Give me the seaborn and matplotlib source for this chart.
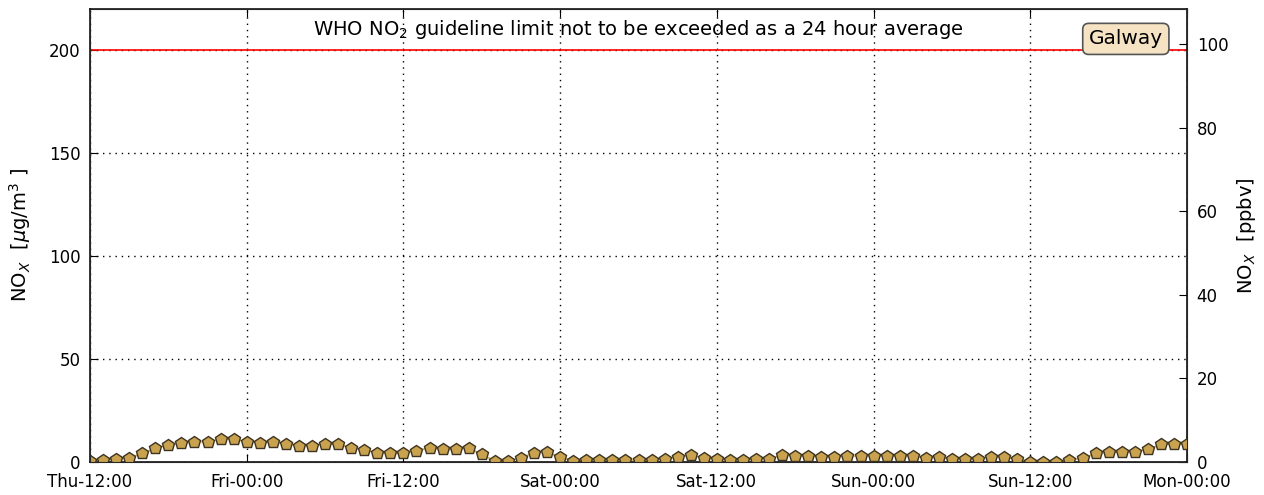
import pandas as pd
import matplotlib
matplotlib.use("Agg")
import matplotlib.pyplot as plt
import matplotlib.dates as mdates
import seaborn as sns

# hourly NOx readings (ug/m3), Thu 12:00 -> Mon 00:00
nox_ugm3 = [0.3, 1.0, 1.5, 2.0, 4.2, 6.6, 8.2, 9.0, 9.8, 9.8,
            11.1, 11.1, 9.8, 9.4, 9.8, 8.7, 7.9, 7.9, 8.7, 8.7,
            6.9, 5.8, 4.6, 4.2, 4.2, 5.5, 6.9, 6.1, 6.1, 6.9,
            3.7, 0.5, 0.5, 2.1, 4.5, 5.0, 2.3, 0.7, 1.0, 1.0,
            1.0, 1.0, 1.0, 1.0, 1.6, 2.3, 3.4, 1.8, 1.5, 1.0,
            1.0, 1.6, 1.6, 3.4, 2.9, 2.9, 2.6, 2.3, 2.9, 2.9,
            2.9, 2.9, 2.9, 2.9, 1.9, 2.3, 1.3, 1.3, 1.3, 2.6,
            2.3, 1.3, 0.2, 0.2, 0.2, 1.0, 1.8, 4.2, 4.7, 4.7,
            5.0, 6.1, 8.6, 8.6, 8.6]
start_time = "2016-01-07 12:00"   # a Thursday
end_time = "2016-01-11 00:00"     # Monday
who_limit = 200
site_name = "Galway"
left_ticks = [0, 50, 100, 150, 200]
right_ticks = [0, 20, 40, 60, 80, 100]

times = pd.date_range(start_time, periods=len(nox_ugm3), freq="h")
df = pd.DataFrame({"time": times, "nox": nox_ugm3})

sns.set_style("ticks")
plt.rcParams["font.family"] = ["DejaVu Sans"]
plt.rcParams.update({"text.color": "black", "axes.labelcolor": "black",
                     "xtick.color": "black", "ytick.color": "black"})

fig = plt.figure(figsize=(12.64, 4.95), dpi=100)
ax = fig.add_axes([0.0712, 0.0667, 0.8679, 0.9151])

ax.axhline(who_limit, color="red", lw=1.2, zorder=1)
sns.lineplot(data=df, x="time", y="nox", ax=ax, color="#c9a24f", lw=1,
             marker="p", markersize=9, markerfacecolor="#c9a24f",
             markeredgecolor="#3d3320", markeredgewidth=1, zorder=3)

ax.set_xlim(pd.Timestamp(start_time), pd.Timestamp(end_time))
ax.set_ylim(0, 220)
ax.set_yticks(left_ticks)
ax.xaxis.set_major_locator(mdates.HourLocator(byhour=[0, 12]))
ax.xaxis.set_major_formatter(mdates.DateFormatter("%a-%H:%M"))
ax.grid(True, linestyle=(0, (1, 3.5)), color="black", lw=1)
ax.tick_params(direction="in", length=6, top=True, right=True, labelsize=12)
ax.tick_params(axis="x", pad=8)
ax.tick_params(axis="y", pad=7)
ax.set_xlabel("")
ax.set_ylabel(r"NO$_X$  [$\mu$g/m$^3$ ]", fontsize=14, labelpad=11)

for sp in ax.spines.values():
    sp.set_visible(True)
    sp.set_color("black")
    sp.set_linewidth(1.1)

ax.text(0.5, 0.954, r"WHO NO$_2$ guideline limit not to be exceeded as a 24 hour average",
        transform=ax.transAxes, ha="center", va="center", fontsize=14)
ax.text(0.978, 0.955, site_name, transform=ax.transAxes, ha="right", va="top",
        fontsize=14.5, bbox=dict(boxstyle="round,pad=0.3", facecolor="#f5e3c3",
                                 edgecolor="#555555", lw=1.2))

ax2 = ax.twinx()
ax2.set_ylim(0, 108.4)
ax2.set_yticks(right_ticks)
ax2.tick_params(direction="in", length=6, labelsize=12, pad=7)
ax2.set_ylabel(r"NO$_X$  [ppbv]", fontsize=14, rotation=90, labelpad=5)
ax2.grid(False)

fig.savefig("out.png", dpi=100)
